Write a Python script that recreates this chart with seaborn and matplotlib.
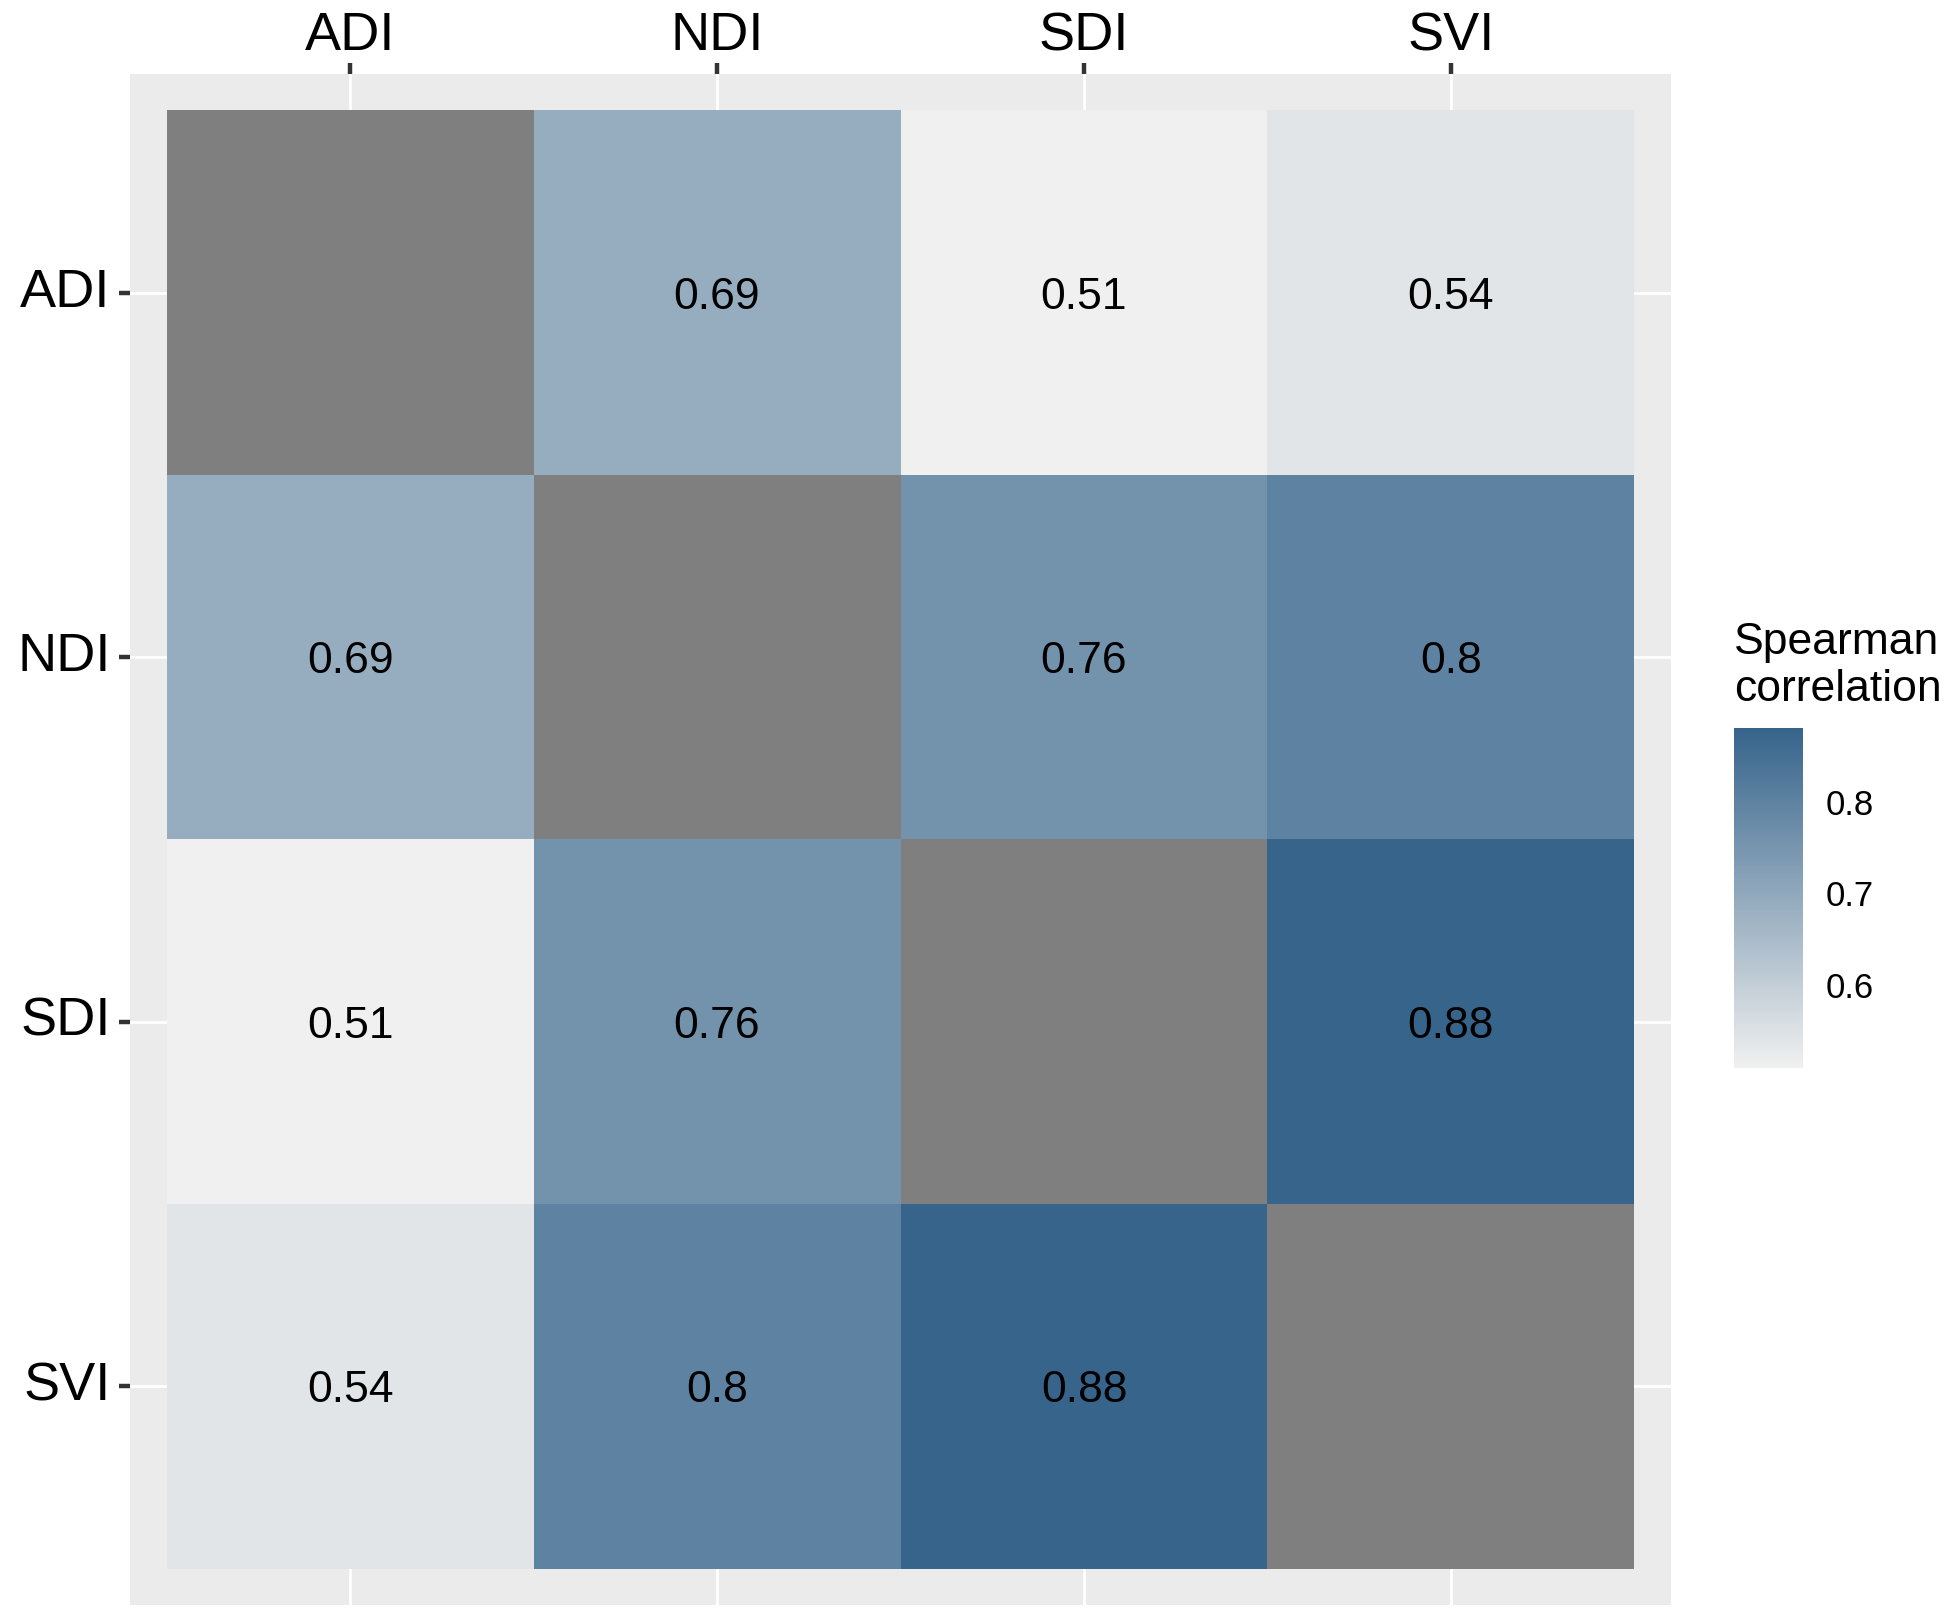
import numpy as np
import seaborn as sns
from matplotlib import pyplot as plt
from matplotlib.colors import LinearSegmentedColormap

labels = ['ADI', 'NDI', 'SDI', 'SVI']
# upper triangle pairs, mirrored below
pair_values = {
    ('ADI', 'NDI'): 0.69,
    ('ADI', 'SDI'): 0.51,
    ('ADI', 'SVI'): 0.54,
    ('NDI', 'SDI'): 0.76,
    ('NDI', 'SVI'): 0.80,
    ('SDI', 'SVI'): 0.88,
}
cbar_ticks = [0.6, 0.7, 0.8]
low_colour = '#F0F0F0'
high_colour = '#36648B'
na_colour = '#7F7F7F'

n = len(labels)
corr = np.full((n, n), np.nan)
for (a, b), v in pair_values.items():
    i, j = labels.index(a), labels.index(b)
    corr[i, j] = v
    corr[j, i] = v
annot = np.array([['' if np.isnan(v) else '{:g}'.format(v) for v in row] for row in corr])

sns.set_theme(style='white')
plt.rcParams['font.family'] = ['Liberation Sans', 'DejaVu Sans']
plt.rcParams['text.color'] = 'black'

cmap = LinearSegmentedColormap.from_list('spearman', [low_colour, high_colour])
cmap.set_bad(na_colour)

fig = plt.figure(figsize=(19.5, 16.21), dpi=100)
ax = fig.add_axes([130 / 1950, 1 - 1605 / 1621, 1541 / 1950, 1531 / 1621])
cax = fig.add_axes([1734 / 1950, 1 - 1068 / 1621, 69 / 1950, 340 / 1621])

sns.heatmap(corr, ax=ax, cmap=cmap, vmin=np.nanmin(corr), vmax=np.nanmax(corr),
            annot=annot, fmt='',
            annot_kws={'fontsize': 32, 'color': 'black', 'va': 'center_baseline'},
            cbar=False, xticklabels=labels, yticklabels=labels, linewidths=0)

ax.set_facecolor('#EBEBEB')
ax.set_xlim(-0.1, n + 0.1)
ax.set_ylim(n + 0.1, -0.1)
ax.set_axisbelow(True)
ax.grid(True, color='white', linewidth=2.0)
for s in ax.spines.values():
    s.set_visible(False)
ax.xaxis.tick_top()
ax.tick_params(axis='both', which='major', labelsize=39, length=8, width=3.2,
               color='#333333', labelcolor='black', bottom=False, left=True, top=True)
ax.tick_params(axis='x', labelrotation=0, pad=1)
ax.tick_params(axis='y', labelrotation=0, pad=6)
ax.set_xlabel('')
ax.set_ylabel('')

cb = fig.colorbar(ax.collections[0], cax=cax, ticks=cbar_ticks)
cb.outline.set_visible(False)
cax.tick_params(which='major', direction='in', left=True, right=True, length=11,
                width=1.8, color='white', labelcolor='black', labelsize=25, pad=16)
cax.set_yticklabels(['{:g}'.format(t) for t in cbar_ticks])

fig.text(1734 / 1950, 1 - 622 / 1621, 'Spearman\ncorrelation', fontsize=32,
         color='black', ha='left', va='top', linespacing=1.18)

fig.savefig('out.png', dpi=100, facecolor='white')
